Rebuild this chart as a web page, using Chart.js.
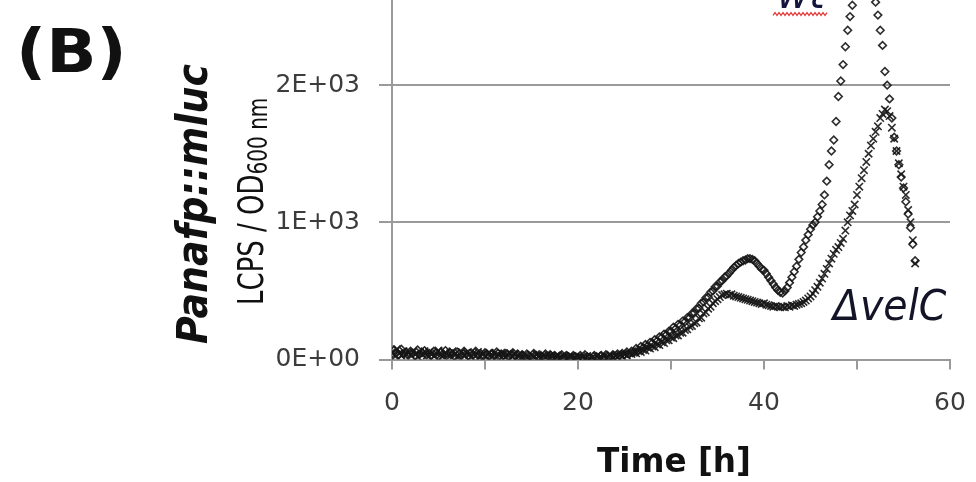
<!DOCTYPE html>
<html>
<head>
<meta charset="utf-8">
<script src="https://cdn.jsdelivr.net/npm/chart.js@4.4.1/dist/chart.umd.min.js"></script>
<style>
  html, body { margin: 0; padding: 0; background: #fff; overflow: hidden; }
  #wrap { position: relative; width: 976px; height: 482px; overflow: hidden; }
  /* canvas sits higher than the window: the top of the plot is cut off like in the figure */
  #box { position: absolute; left: 0; top: -86px; width: 976px; height: 568px; }
</style>
</head>
<body>
<div id="wrap"><div id="box"><canvas id="lumChart" width="976" height="568"></canvas></div></div>
<script>
// =====================
// Data, one sample every 15 min
// =====================
const sampleStepH = 0.25;

const wtLum = [
  25, 70, 50, 35, 75, 40, 55, 30,
  60, 45, 25, 70, 40, 50, 65, 35,
  45, 30, 60, 50, 25, 55, 40, 65,
  35, 50, 40, 20, 55, 45, 30, 60,
  40, 25, 50, 35, 60, 30, 45, 20,
  50, 35, 25, 45, 30, 55, 20, 40,
  30, 45, 20, 35, 50, 25, 40, 15,
  35, 20, 40, 25, 15, 45, 30, 20,
  30, 15, 40, 25, 35, 20, 30, 10,
  25, 35, 15, 30, 20, 10, 30, 20,
  15, 30, 10, 35, 20, 15, 5, 30,
  20, 10, 30, 15, 35, 20, 15, 35,
  25, 40, 30, 45, 35, 55, 40, 60,
  55, 80, 65, 95, 85, 110, 100, 125,
  120, 145, 135, 165, 160, 185, 180, 205,
  205, 235, 225, 255, 250, 280, 275, 305,
  305, 335, 340, 370, 375, 410, 420, 450,
  455, 490, 500, 530, 535, 565, 575, 600,
  610, 630, 650, 670, 685, 700, 710, 720,
  725, 735, 735, 730, 720, 700, 680, 660,
  650, 625, 600, 575, 550, 525, 505, 490,
  485, 500, 525, 560, 600, 640, 680, 730,
  780, 820, 870, 910, 950, 980, 1000, 1040,
  1083, 1130, 1200, 1300, 1420, 1520, 1600, 1735,
  1917, 2030, 2150, 2280, 2400, 2500, 2583, 2700,
  2800, 2880, 2930, 2950, 2930, 2880, 2800, 2700,
  2605, 2511, 2400, 2290, 2100, 2000, 1900, 1760,
  1620, 1520, 1420, 1330, 1250, 1150, 1060, 960,
  840, 720
];

const velCLum = [
  55, 30, 75, 45, 30, 60, 40, 50,
  35, 55, 40, 20, 55, 35, 60, 30,
  55, 40, 25, 45, 65, 35, 25, 50,
  30, 45, 60, 35, 20, 40, 55, 30,
  50, 35, 20, 45, 30, 55, 25, 40,
  25, 40, 50, 20, 45, 25, 35, 50,
  40, 20, 35, 45, 20, 40, 25, 35,
  20, 35, 25, 10, 35, 20, 40, 25,
  15, 30, 20, 35, 10, 25, 15, 30,
  10, 20, 30, 10, 20, 25, 5, 15,
  20, 5, 15, 10, 25, 5, 15, 10,
  25, 10, 15, 30, 10, 20, 35, 15,
  30, 20, 35, 25, 40, 30, 45, 40,
  50, 45, 60, 55, 70, 65, 85, 80,
  95, 90, 110, 105, 125, 120, 140, 140,
  160, 155, 175, 175, 195, 195, 215, 220,
  240, 245, 265, 270, 300, 305, 335, 345,
  370, 385, 410, 425, 440, 455, 470, 475,
  480, 470, 475, 465, 460, 455, 450, 445,
  440, 435, 430, 425, 420, 415, 410, 405,
  410, 400, 395, 390, 385, 390, 385, 380,
  385, 380, 390, 385, 395, 390, 400, 405,
  410, 420, 430, 445, 460, 480, 505, 530,
  560, 590, 625, 660, 700, 735, 770, 800,
  820, 850, 880, 940, 1000, 1050, 1083, 1130,
  1200, 1260, 1322, 1380, 1440, 1500, 1560, 1610,
  1660, 1700, 1760, 1790, 1822, 1810, 1775, 1690,
  1610, 1520, 1430, 1350, 1260, 1200, 1090, 1000,
  870, 700
];

const xTicksShown = [0, 20, 40, 60];
const yTickValues = [0, 1000, 2000, 3000];

const SHIFT = 86;          // canvas offset (px) above the window
const GRID = '#9a9a9a';
const TICK_TXT = '#3c3c3c';
const MARK = 'rgba(22,22,22,0.9)';

function sciLabel(v) {
  if (v === 0) return '0E+00';
  const e = Math.floor(Math.log10(v));
  const m = Math.round(v / Math.pow(10, e));
  return m + 'E+' + String(e).padStart(2, '0');
}

function toPoints(vals) {
  return vals.map((v, i) => ({ x: i * sampleStepH, y: v }));
}

// =====================
// Text helpers
// =====================
function put(ctx, txt, x, y, font, color, opt) {
  opt = opt || {};
  ctx.save();
  ctx.translate(x, y);
  if (opt.rot) ctx.rotate(-Math.PI / 2);
  ctx.scale(opt.sx || 1, opt.sy || 1);
  ctx.font = font;
  ctx.fillStyle = color;
  ctx.textAlign = opt.align || 'left';
  ctx.textBaseline = 'alphabetic';
  ctx.fillText(txt, 0, 0);
  ctx.restore();
}

const panelText = {
  id: 'panelText',
  afterDraw(chart) {
    const ctx = chart.ctx;
    ctx.save();
    ctx.translate(0, SHIFT);   // work in window coordinates

    put(ctx, '(B)', 16, 72, 'bold 60px "DejaVu Sans"', '#111', { sx: 1.1 });
    put(ctx, 'Time [h]', 674, 472, 'bold 34px "DejaVu Sans"', '#111', { align: 'center', sx: 0.96 });
    put(ctx, 'Panafp::mluc', 207, 204, 'bold italic 38px "DejaVu Sans"', '#111', { rot: true, align: 'center', sy: 1.14 });

    // LCPS / OD(600 nm) with subscript
    ctx.save();
    ctx.translate(263, 305);
    ctx.rotate(-Math.PI / 2);
    ctx.scale(1, 1.37);
    ctx.fillStyle = '#111';
    ctx.textBaseline = 'alphabetic';
    ctx.textAlign = 'left';
    ctx.font = '26px "DejaVu Sans"';
    ctx.fillText('LCPS / OD', 0, 0);
    const w = ctx.measureText('LCPS / OD').width;
    ctx.font = '20px "DejaVu Sans"';
    ctx.fillText('600 nm', w, 3);
    ctx.restore();

    put(ctx, '\u0394velC', 833, 320, 'italic 42px "DejaVu Sans"', '#141428', { sx: 0.94 });
    put(ctx, 'wt', 777, 8, 'italic 42px "DejaVu Sans"', '#14143c', { sx: 0.94 });

    // spell-check squiggle under "wt"
    ctx.strokeStyle = '#e03a3a';
    ctx.lineWidth = 1.2;
    ctx.beginPath();
    for (let x = 773, k = 0; x <= 828; x += 2, k++) {
      const y = 14 + (k % 2 ? -1.4 : 1.4);
      if (k === 0) ctx.moveTo(x, y); else ctx.lineTo(x, y);
    }
    ctx.stroke();
    ctx.restore();
  }
};

// =====================
// Chart
// =====================
const tickFont = { family: 'DejaVu Sans', size: 25 };

const lumChart = new Chart(document.getElementById('lumChart'), {
  type: 'scatter',
  data: {
    datasets: [
      {
        label: '\u0394velC',
        data: toPoints(velCLum),
        pointStyle: 'crossRot',
        pointRadius: 5.2,
        borderWidth: 1.6,
        borderColor: MARK,
        backgroundColor: 'rgba(0,0,0,0)'
      },
      {
        label: 'wt',
        data: toPoints(wtLum),
        pointStyle: 'rectRot',
        pointRadius: 3.8,
        borderWidth: 1.6,
        borderColor: MARK,
        backgroundColor: 'rgba(0,0,0,0)'
      }
    ]
  },
  options: {
    responsive: false,
    devicePixelRatio: 1,
    animation: false,
    layout: { padding: { left: 0, right: 26, top: 6, bottom: 0 } },
    plugins: { legend: { display: false }, tooltip: { enabled: false } },
    scales: {
      x: {
        type: 'linear', min: 0, max: 60,
        ticks: {
          stepSize: 10, autoSkip: false, maxRotation: 0,
          callback: v => xTicksShown.includes(v) ? String(v) : '',
          font: { family: 'DejaVu Sans', size: 25, lineHeight: 2 }, color: TICK_TXT, padding: 9
        },
        grid: { drawOnChartArea: false, drawTicks: true, tickLength: 10, color: GRID, lineWidth: 2 },
        border: { display: true, color: GRID, width: 2 },
        afterFit: s => { s.height = 122.5; }
      },
      y: {
        min: 0, max: 3000,
        afterBuildTicks: s => { s.ticks = yTickValues.map(v => ({ value: v })); },
        ticks: { callback: v => sciLabel(v), font: tickFont, color: TICK_TXT, padding: 19 },
        grid: { color: GRID, lineWidth: 2, drawTicks: true, tickLength: 13 },
        border: { display: true, color: GRID, width: 2 },
        afterFit: s => { s.width = 392; }
      }
    }
  },
  plugins: [panelText]
});
</script>
</body>
</html>
